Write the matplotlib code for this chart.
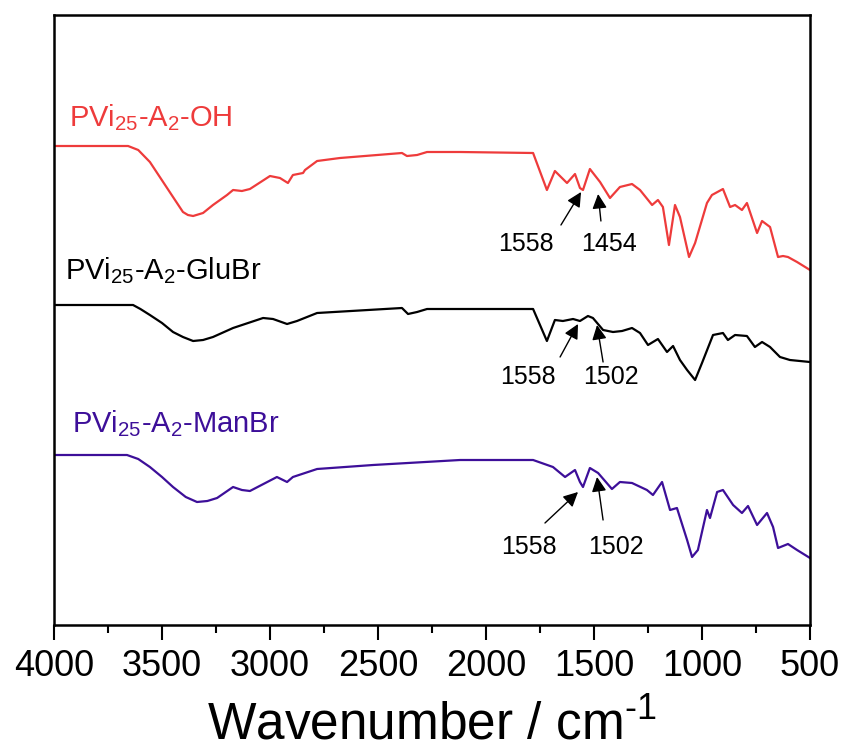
import matplotlib.pyplot as plt
from matplotlib.ticker import MultipleLocator

plt.rcParams['font.family'] = ['Liberation Sans', 'DejaVu Sans']
plt.rcParams['mathtext.fontset'] = 'custom'
plt.rcParams['mathtext.rm'] = 'Liberation Sans'
plt.rcParams['mathtext.it'] = 'Liberation Sans'

# spectra (wavenumber in cm-1, transmittance in a.u. incl. offset)
wn_oh = [4000, 3657, 3610, 3556, 3449, 3403, 3380, 3356, 3310, 3264, 3199, 3171, 3130, 3093,
         3000, 2954, 2917, 2894, 2847, 2838, 2782, 2676, 2389, 2366, 2319, 2273, 2120, 1782,
         1718, 1681, 1625, 1588, 1565, 1551, 1519, 1472, 1426, 1380, 1324, 1287, 1231, 1204,
         1181, 1153, 1125, 1102, 1060, 1032, 977, 954, 903, 870, 847, 815, 792, 745, 722, 685,
         648, 625, 602, 560, 500]
t_oh = [4.79, 4.79, 4.75, 4.63, 4.28, 4.13, 4.10, 4.09, 4.12, 4.20, 4.30, 4.35, 4.34, 4.36,
        4.49, 4.47, 4.42, 4.50, 4.52, 4.55, 4.64, 4.67, 4.72, 4.69, 4.70, 4.73, 4.73, 4.72,
        4.35, 4.54, 4.42, 4.51, 4.37, 4.35, 4.56, 4.43, 4.27, 4.38, 4.41, 4.35, 4.20, 4.25,
        4.18, 3.80, 4.20, 4.08, 3.68, 3.82, 4.22, 4.30, 4.36, 4.18, 4.20, 4.15, 4.22, 3.92,
        4.04, 3.98, 3.68, 3.69, 3.68, 3.63, 3.55]

wn_glu = [4000, 3634, 3600, 3556, 3500, 3449, 3403, 3356, 3310, 3264, 3171, 3032, 2986, 2921,
          2875, 2782, 2389, 2361, 2319, 2273, 2120, 1782, 1718, 1681, 1644, 1597, 1565, 1528,
          1505, 1458, 1412, 1370, 1324, 1287, 1250, 1204, 1162, 1134, 1102, 1069, 1032, 1000,
          949, 903, 880, 847, 792, 755, 722, 685, 639, 593, 500]
t_glu = [3.20, 3.20, 3.16, 3.10, 3.02, 2.93, 2.88, 2.84, 2.85, 2.88, 2.97, 3.07, 3.06, 3.01,
         3.04, 3.12, 3.17, 3.11, 3.13, 3.16, 3.16, 3.16, 2.84, 3.05, 3.04, 3.06, 3.04, 3.09,
         3.07, 2.95, 2.93, 2.94, 2.97, 2.92, 2.80, 2.86, 2.73, 2.79, 2.65, 2.55, 2.45, 2.62,
         2.90, 2.92, 2.85, 2.90, 2.89, 2.78, 2.83, 2.78, 2.68, 2.65, 2.63]

wn_man = [4000, 3662, 3610, 3556, 3500, 3449, 3390, 3338, 3290, 3245, 3171, 3130, 3093, 2968,
          2921, 2894, 2782, 2523, 2120, 1782, 1690, 1634, 1588, 1565, 1551, 1519, 1481, 1417,
          1380, 1324, 1255, 1227, 1185, 1148, 1116, 1069, 1046, 1019, 977, 963, 930, 903, 856,
          815, 787, 745, 699, 671, 648, 602, 560, 500]
t_man = [1.70, 1.70, 1.66, 1.58, 1.48, 1.38, 1.28, 1.23, 1.24, 1.27, 1.38, 1.35, 1.34, 1.48,
         1.43, 1.48, 1.56, 1.60, 1.65, 1.65, 1.58, 1.48, 1.55, 1.43, 1.38, 1.57, 1.52, 1.36,
         1.43, 1.42, 1.35, 1.30, 1.43, 1.15, 1.17, 0.85, 0.68, 0.75, 1.15, 1.07, 1.33, 1.35,
         1.20, 1.12, 1.19, 1.00, 1.12, 0.98, 0.77, 0.81, 0.75, 0.67]

names = ['PVi$_{25}$-A$_2$-OH', 'PVi$_{25}$-A$_2$-GluBr', 'PVi$_{25}$-A$_2$-ManBr']
colors = ['#ee3b3b', 'black', '#3d0f99']
name_pos = [(3931, 4.99), (3949, 3.46), (3917, 1.93)]

# annotations: label, text position, arrow tail, arrow tip
notes = [
    ('1558', (1815, 3.81), (1653, 4.00), (1560, 4.33)),
    ('1454', (1430, 3.81), (1468, 4.04), (1481, 4.31)),
    ('1558', (1806, 2.48), (1657, 2.68), (1574, 3.01)),
    ('1502', (1421, 2.48), (1458, 2.63), (1486, 3.00)),
    ('1558', (1801, 0.78), (1727, 1.02), (1574, 1.33)),
    ('1502', (1398, 0.78), (1458, 1.05), (1486, 1.48)),
]

fig = plt.figure(figsize=(8.46, 7.54), dpi=100)
ax = fig.add_axes([54/846, 1 - 625/754, 756/846, 610/754])

for wn, t, c in zip([wn_oh, wn_glu, wn_man], [t_oh, t_glu, t_man], colors):
    ax.plot(wn, t, color=c, lw=1.6)

for name, (x, y), c in zip(names, name_pos, colors):
    ax.text(x, y, name, color=c, fontsize=21, ha='left', va='baseline')

for lab, tpos, tail, tip in notes:
    ax.text(tpos[0], tpos[1], lab, fontsize=18, ha='center', va='center')
    ax.annotate('', xy=tip, xytext=tail,
                arrowprops=dict(arrowstyle='-|>', color='black', lw=1,
                                mutation_scale=22, shrinkA=0, shrinkB=0))

ax.set_xlim(4000, 500)
ax.set_ylim(0, 6.10)
ax.xaxis.set_major_locator(MultipleLocator(500))
ax.xaxis.set_minor_locator(MultipleLocator(250))
ax.set_yticks([])
ax.tick_params(axis='x', which='major', length=11, width=1.5, labelsize=26, pad=6)
ax.tick_params(axis='x', which='minor', length=6, width=1.5)
for s in ax.spines.values():
    s.set_linewidth(1.8)
ax.set_xlabel('Wavenumber / cm$^{\\text{-}1}$', fontsize=37, labelpad=12)

fig.savefig('out.png', dpi=100)
